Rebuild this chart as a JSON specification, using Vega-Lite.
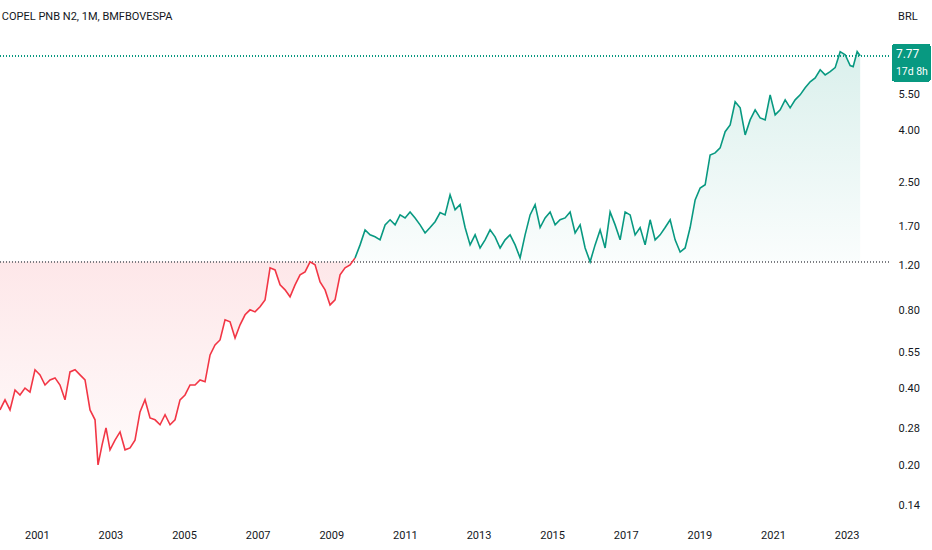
{
  "$schema": "https://vega.github.io/schema/vega-lite/v6.json",
  "width": 890,
  "height": 520,
  "padding": {"left": 0, "top": 0, "right": 42, "bottom": 30},
  "autosize": "none",
  "background": "white",
  "config": {"view": {"stroke": null}, "font": "Roboto"},
  "datasets": {
    "price": [
      {"t":2000.0,"v":0.330},{"t":2000.136,"v":0.361},{"t":2000.272,"v":0.330},{"t":2000.408,"v":0.394},
      {"t":2000.543,"v":0.377},{"t":2000.679,"v":0.401},{"t":2000.815,"v":0.387},{"t":2000.951,"v":0.472},
      {"t":2001.087,"v":0.451},{"t":2001.223,"v":0.412},{"t":2001.359,"v":0.431},{"t":2001.495,"v":0.439},
      {"t":2001.63,"v":0.412},{"t":2001.766,"v":0.361},{"t":2001.902,"v":0.463},{"t":2002.038,"v":0.472},
      {"t":2002.174,"v":0.451},{"t":2002.31,"v":0.431},{"t":2002.446,"v":0.330},{"t":2002.582,"v":0.302},
      {"t":2002.663,"v":0.202},{"t":2002.772,"v":0.241},{"t":2002.88,"v":0.281},{"t":2002.989,"v":0.231},
      {"t":2003.125,"v":0.252},{"t":2003.261,"v":0.271},{"t":2003.397,"v":0.231},{"t":2003.533,"v":0.235},
      {"t":2003.668,"v":0.252},{"t":2003.804,"v":0.324},{"t":2003.94,"v":0.361},{"t":2004.076,"v":0.307},
      {"t":2004.212,"v":0.302},{"t":2004.348,"v":0.289},{"t":2004.484,"v":0.316},{"t":2004.62,"v":0.289},
      {"t":2004.755,"v":0.302},{"t":2004.891,"v":0.361},{"t":2005.027,"v":0.377},{"t":2005.163,"v":0.412},
      {"t":2005.299,"v":0.412},{"t":2005.435,"v":0.431},{"t":2005.571,"v":0.424},{"t":2005.707,"v":0.539},
      {"t":2005.842,"v":0.589},{"t":2005.978,"v":0.616},{"t":2006.114,"v":0.737},{"t":2006.25,"v":0.724},
      {"t":2006.386,"v":0.627},{"t":2006.522,"v":0.705},{"t":2006.658,"v":0.771},{"t":2006.793,"v":0.806},
      {"t":2006.929,"v":0.791},{"t":2007.065,"v":0.828},{"t":2007.201,"v":0.881},{"t":2007.337,"v":1.172},
      {"t":2007.473,"v":1.151},{"t":2007.609,"v":1.007},{"t":2007.745,"v":0.963},{"t":2007.88,"v":0.905},
      {"t":2008.016,"v":1.007},{"t":2008.152,"v":1.101},{"t":2008.288,"v":1.131},{"t":2008.424,"v":1.237},
      {"t":2008.56,"v":1.204},{"t":2008.696,"v":1.034},{"t":2008.832,"v":0.963},{"t":2008.967,"v":0.842},
      {"t":2009.103,"v":0.881},{"t":2009.239,"v":1.101},{"t":2009.375,"v":1.172},{"t":2009.511,"v":1.204},
      {"t":2009.647,"v":1.281},{"t":2009.783,"v":1.439},{"t":2009.918,"v":1.645},{"t":2010.054,"v":1.574},
      {"t":2010.19,"v":1.546},{"t":2010.326,"v":1.505},{"t":2010.462,"v":1.72},{"t":2010.598,"v":1.80},
      {"t":2010.734,"v":1.72},{"t":2010.87,"v":1.88},{"t":2011.005,"v":1.83},{"t":2011.141,"v":1.93},
      {"t":2011.277,"v":1.83},{"t":2011.413,"v":1.72},{"t":2011.549,"v":1.60},{"t":2011.685,"v":1.68},
      {"t":2011.821,"v":1.77},{"t":2011.957,"v":1.92},{"t":2012.092,"v":1.88},{"t":2012.228,"v":2.25},
      {"t":2012.364,"v":1.97},{"t":2012.5,"v":2.06},{"t":2012.636,"v":1.68},{"t":2012.772,"v":1.439},
      {"t":2012.908,"v":1.574},{"t":2013.043,"v":1.40},{"t":2013.179,"v":1.505},{"t":2013.315,"v":1.645},
      {"t":2013.451,"v":1.546},{"t":2013.587,"v":1.40},{"t":2013.723,"v":1.505},{"t":2013.859,"v":1.574},
      {"t":2013.995,"v":1.439},{"t":2014.13,"v":1.281},{"t":2014.266,"v":1.574},{"t":2014.402,"v":1.88},
      {"t":2014.538,"v":2.06},{"t":2014.674,"v":1.68},{"t":2014.81,"v":1.83},{"t":2014.946,"v":1.93},
      {"t":2015.082,"v":1.72},{"t":2015.217,"v":1.80},{"t":2015.353,"v":1.83},{"t":2015.489,"v":1.93},
      {"t":2015.625,"v":1.60},{"t":2015.761,"v":1.72},{"t":2015.897,"v":1.40},{"t":2016.033,"v":1.237},
      {"t":2016.168,"v":1.439},{"t":2016.304,"v":1.645},{"t":2016.44,"v":1.40},{"t":2016.576,"v":1.93},
      {"t":2016.712,"v":1.72},{"t":2016.848,"v":1.505},{"t":2016.984,"v":1.93},{"t":2017.12,"v":1.88},
      {"t":2017.255,"v":1.574},{"t":2017.391,"v":1.68},{"t":2017.527,"v":1.439},{"t":2017.663,"v":1.80},
      {"t":2017.799,"v":1.505},{"t":2017.935,"v":1.574},{"t":2018.071,"v":1.68},{"t":2018.207,"v":1.80},
      {"t":2018.342,"v":1.505},{"t":2018.478,"v":1.35},{"t":2018.614,"v":1.40},{"t":2018.75,"v":1.68},
      {"t":2018.886,"v":2.15},{"t":2019.022,"v":2.39},{"t":2019.158,"v":2.46},{"t":2019.293,"v":3.21},
      {"t":2019.429,"v":3.27},{"t":2019.565,"v":3.42},{"t":2019.701,"v":3.95},{"t":2019.837,"v":4.20},
      {"t":2019.973,"v":5.16},{"t":2020.109,"v":4.89},{"t":2020.245,"v":3.84},{"t":2020.38,"v":4.39},
      {"t":2020.516,"v":4.80},{"t":2020.652,"v":4.47},{"t":2020.788,"v":4.39},{"t":2020.924,"v":5.49},
      {"t":2021.06,"v":4.59},{"t":2021.196,"v":4.80},{"t":2021.332,"v":5.25},{"t":2021.467,"v":4.89},
      {"t":2021.603,"v":5.25},{"t":2021.739,"v":5.49},{"t":2021.875,"v":5.85},{"t":2022.011,"v":6.17},
      {"t":2022.147,"v":6.39},{"t":2022.283,"v":6.87},{"t":2022.418,"v":6.56},{"t":2022.554,"v":6.75},
      {"t":2022.69,"v":7.0},{"t":2022.826,"v":8.07},{"t":2022.962,"v":7.85},{"t":2023.098,"v":7.13},
      {"t":2023.179,"v":7.06},{"t":2023.288,"v":8.07},{"t":2023.37,"v":7.78}
    ],
    "labels": [
      {"label": "7.77", "t": 2024.34, "v": 7.9, "fs": 12, "fw": "bold"},
      {"label": "17d 8h", "t": 2024.34, "v": 6.72, "fs": 10.5, "fw": "normal"}
    ]
  },
  "data": {"name": "price"},
  "encoding": {
    "x": {
      "field": "t", "type": "quantitative",
      "scale": {"domain": [2000, 2024.18], "nice": false, "zero": false},
      "axis": {
        "title": null, "grid": false, "ticks": false, "domain": false,
        "values": [2001,2003,2005,2007,2009,2011,2013,2015,2017,2019,2021,2023],
        "format": "d", "labelColor": "#131722", "labelFontSize": 11, "labelPadding": 9
      }
    },
    "y": {
      "field": "v", "type": "quantitative",
      "scale": {"type": "log", "domain": [0.1235, 12.8], "nice": false},
      "axis": {
        "title": null, "orient": "right", "grid": false, "ticks": false, "domain": false,
        "values": [0.14,0.2,0.28,0.4,0.55,0.8,1.2,1.7,2.5,4,5.5],
        "format": ".2f", "labelColor": "#131722", "labelFontSize": 11, "labelPadding": 8
      }
    }
  },
  "layer": [
    {
      "transform": [{"filter": "datum.t <= 2009.65"}],
      "mark": {"type": "area", "fill": {"gradient": "linear", "x1": 0, "y1": 0, "x2": 0, "y2": 1,
        "stops": [{"offset": 0, "color": "rgba(242,54,69,0.12)"}, {"offset": 1, "color": "rgba(242,54,69,0.02)"}]}},
      "encoding": {"y2": {"datum": 1.24}}
    },
    {
      "transform": [{"filter": "datum.t >= 2009.6"}],
      "mark": {"type": "area", "fill": {"gradient": "linear", "x1": 0, "y1": 0, "x2": 0, "y2": 1,
        "stops": [{"offset": 0, "color": "rgba(8,153,129,0.15)"}, {"offset": 1, "color": "rgba(8,153,129,0.02)"}]}},
      "encoding": {"y2": {"datum": 1.24}}
    },
    {
      "mark": {"type": "rule", "color": "#787b86", "strokeDash": [1, 2], "strokeWidth": 1},
      "encoding": {"x": {"datum": 2000}, "x2": {"datum": 2024.18}, "y": {"datum": 1.24}}
    },
    {
      "mark": {"type": "rule", "color": "#089981", "strokeDash": [1, 2], "strokeWidth": 1},
      "encoding": {"x": {"datum": 2000}, "x2": {"datum": 2024.18}, "y": {"datum": 7.78}}
    },
    {
      "transform": [{"filter": "datum.t <= 2009.65"}],
      "mark": {"type": "line", "color": "#f23645", "strokeWidth": 1.6}
    },
    {
      "transform": [{"filter": "datum.t >= 2009.6"}],
      "mark": {"type": "line", "color": "#089981", "strokeWidth": 1.6}
    },
    {
      "mark": {"type": "rect", "color": "#089981", "clip": false, "cornerRadius": 2},
      "encoding": {"x": {"datum": 2024.25}, "x2": {"datum": 2025.27}, "y": {"datum": 8.6}, "y2": {"datum": 6.2}}
    },
    {
      "data": {"values": [{"label": "COPEL PNB N2, 1M, BMFBOVESPA", "t": 2000.05, "v": 11.0}]},
      "mark": {"type": "text", "color": "#131722", "fontSize": 11, "align": "left", "baseline": "middle"},
      "encoding": {"x": {"field": "t", "type": "quantitative"}, "y": {"field": "v", "type": "quantitative"}, "text": {"field": "label"}}
    },
    {
      "data": {"values": [{"label": "BRL", "t": 2024.4, "v": 11.0}]},
      "mark": {"type": "text", "color": "#131722", "fontSize": 11, "align": "left", "baseline": "middle", "clip": false},
      "encoding": {"x": {"field": "t", "type": "quantitative"}, "y": {"field": "v", "type": "quantitative"}, "text": {"field": "label"}}
    },
    {
      "data": {"name": "labels"},
      "mark": {"type": "text", "color": "#ffffff", "align": "left", "baseline": "middle", "clip": false},
      "encoding": {
        "x": {"field": "t", "type": "quantitative"},
        "y": {"field": "v", "type": "quantitative"},
        "text": {"field": "label"},
        "size": {"field": "fs", "type": "quantitative", "scale": null},
        "fontWeight": {"field": "fw", "type": "nominal", "scale": null}
      }
    }
  ]
}
